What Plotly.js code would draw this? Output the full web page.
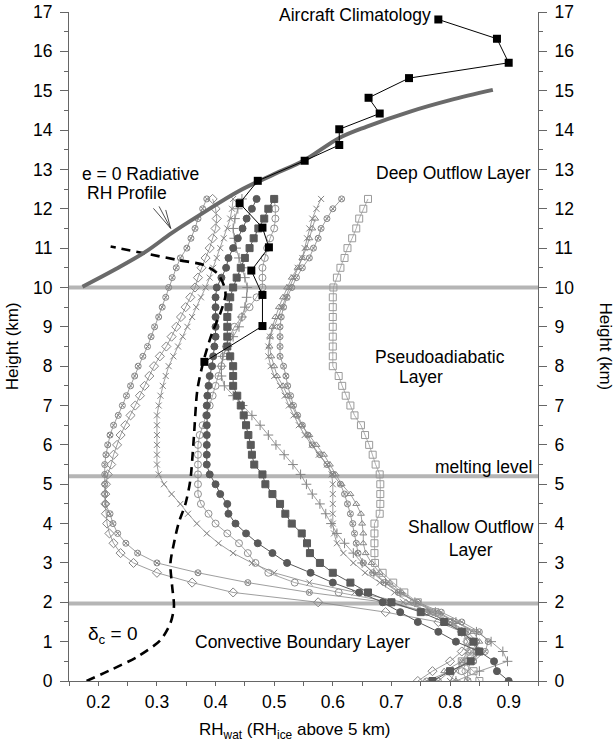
<!DOCTYPE html>
<html><head><meta charset="utf-8">
<script src="https://cdn.plot.ly/plotly-3.0.1.min.js"></script>
<style>html,body{margin:0;padding:0;background:#fff}</style>
</head><body><div id="chart" style="width:616px;height:744px"></div>
<script>
// Heights (km) for model profiles
var heights = [0,0.25,0.5,0.75,1,1.25,1.5,1.75,2,2.25,2.5,2.75,3,3.25,3.5,3.75,4,4.25,4.5,4.75,5,5.25,5.5,5.75,6,6.25,6.5,6.75,7,7.25,7.5,7.75,8,8.25,8.5,8.75,9,9.25,9.5,9.75,10,10.25,10.5,10.75,11,11.25,11.5,11.75,12,12.25];

var p1 = [0.76,0.80,0.84,0.85,0.845,0.83,0.80,0.76,0.69,0.56,0.455,0.37,0.30,0.267,0.247,0.233,0.225,0.22,0.212,0.211,0.211,0.211,0.211,0.213,0.216,0.22,0.226,0.234,0.241,0.248,0.255,0.262,0.268,0.276,0.284,0.29,0.296,0.303,0.309,0.315,0.32,0.326,0.333,0.34,0.351,0.358,0.365,0.37,0.378,0.385];
var p2 = [0.745,0.77,0.80,0.82,0.83,0.82,0.78,0.69,0.575,0.43,0.36,0.30,0.26,0.238,0.226,0.219,0.215,0.213,0.212,0.212,0.213,0.216,0.222,0.226,0.232,0.238,0.246,0.255,0.263,0.271,0.279,0.287,0.295,0.305,0.316,0.325,0.333,0.341,0.349,0.357,0.365,0.37,0.376,0.383,0.39,0.395,0.40,0.402,0.40,0.395];
var p3 = [0.80,0.81,0.82,0.83,0.835,0.82,0.80,0.77,0.72,0.637,0.56,0.50,0.462,0.43,0.405,0.385,0.368,0.353,0.34,0.325,0.312,0.303,0.30,0.30,0.30,0.30,0.30,0.30,0.303,0.306,0.31,0.315,0.32,0.328,0.336,0.344,0.352,0.36,0.367,0.375,0.383,0.39,0.396,0.402,0.408,0.414,0.42,0.425,0.428,0.43];
var p4 = [0.90,0.88,0.875,0.85,0.81,0.78,0.745,0.715,0.685,0.645,0.60,0.562,0.522,0.497,0.472,0.452,0.434,0.422,0.42,0.408,0.40,0.39,0.385,0.385,0.385,0.385,0.385,0.385,0.385,0.386,0.388,0.39,0.394,0.396,0.398,0.40,0.40,0.40,0.40,0.40,0.402,0.41,0.418,0.422,0.43,0.438,0.446,0.453,0.462,0.47];
var p5 = [0.83,0.82,0.83,0.845,0.84,0.825,0.80,0.76,0.70,0.61,0.535,0.49,0.468,0.455,0.44,0.42,0.40,0.388,0.375,0.37,0.37,0.37,0.37,0.37,0.37,0.373,0.378,0.384,0.39,0.395,0.40,0.405,0.41,0.414,0.418,0.424,0.432,0.445,0.458,0.47,0.48,0.48,0.48,0.484,0.488,0.493,0.50,0.502,0.502,0.50];
var p6 = [0.77,0.80,0.835,0.85,0.84,0.82,0.79,0.75,0.70,0.66,0.63,0.60,0.578,0.561,0.556,0.547,0.53,0.519,0.51,0.497,0.485,0.48,0.466,0.462,0.46,0.456,0.452,0.448,0.443,0.437,0.43,0.43,0.43,0.425,0.42,0.42,0.42,0.42,0.422,0.425,0.43,0.436,0.443,0.45,0.458,0.465,0.473,0.483,0.49,0.50];
var p7 = [0.81,0.85,0.898,0.89,0.87,0.845,0.81,0.775,0.74,0.715,0.69,0.67,0.65,0.635,0.62,0.607,0.597,0.588,0.578,0.565,0.555,0.545,0.532,0.517,0.503,0.49,0.476,0.462,0.446,0.43,0.415,0.41,0.41,0.412,0.42,0.43,0.44,0.445,0.45,0.453,0.454,0.45,0.445,0.44,0.435,0.432,0.43,0.433,0.438,0.445];
var p8 = [0.83,0.83,0.835,0.845,0.84,0.82,0.795,0.765,0.73,0.705,0.68,0.655,0.635,0.618,0.607,0.602,0.60,0.60,0.60,0.60,0.60,0.598,0.59,0.576,0.564,0.552,0.542,0.533,0.525,0.518,0.51,0.50,0.494,0.49,0.49,0.493,0.50,0.507,0.513,0.52,0.526,0.533,0.54,0.548,0.552,0.556,0.56,0.565,0.572,0.58];
var p9 = [0.78,0.80,0.84,0.86,0.865,0.85,0.82,0.785,0.745,0.712,0.688,0.668,0.652,0.643,0.64,0.637,0.634,0.63,0.625,0.62,0.613,0.60,0.59,0.578,0.565,0.557,0.548,0.54,0.533,0.528,0.523,0.52,0.516,0.51,0.51,0.51,0.51,0.512,0.516,0.522,0.53,0.538,0.548,0.56,0.567,0.575,0.58,0.59,0.60,0.615];
var p10 = [0.85,0.84,0.82,0.835,0.83,0.82,0.80,0.775,0.745,0.722,0.703,0.685,0.672,0.671,0.671,0.671,0.671,0.68,0.681,0.681,0.681,0.68,0.673,0.668,0.662,0.655,0.648,0.637,0.63,0.622,0.616,0.61,0.60,0.60,0.60,0.60,0.60,0.60,0.60,0.60,0.601,0.607,0.613,0.62,0.625,0.633,0.64,0.645,0.652,0.66];
var p11 = [0.81,0.79,0.82,0.84,0.85,0.84,0.81,0.78,0.742,0.718,0.697,0.68,0.666,0.656,0.652,0.652,0.65,0.648,0.64,0.63,0.615,0.605,0.595,0.585,0.572,0.56,0.547,0.538,0.53,0.522,0.515,0.505,0.50,0.495,0.492,0.493,0.497,0.502,0.508,0.515,0.522,0.53,0.54,0.548,0.555,0.56,0.565,0.57,null,null];

// Aircraft climatology
var acRH = [0.381,0.48,0.48,0.461,0.491,0.48,0.441,0.472,0.552,0.611,0.611,0.68,0.661,0.73,0.90,0.88,0.78];
var acZ  = [8.11,9.02,9.81,10.43,11.02,11.52,12.14,12.71,13.22,13.62,14.02,14.42,14.82,15.32,15.71,16.32,16.81];

// e = 0 radiative RH profile
var radRH = [0.173,0.23,0.281,0.325,0.374,0.44,0.50,0.55,0.611,0.658,0.732,0.80,0.873];
var radZ  = [10.02,10.47,10.91,11.38,11.85,12.45,12.88,13.22,13.8,14.09,14.47,14.76,15.02];

// delta_c = 0 profile
var dRH = [0.18,0.221,0.267,0.306,0.323,0.329,0.326,0.323,0.329,0.337,0.349,0.357,0.363,0.369,0.38,0.394,0.408,0.417,0.414,0.403,0.38,0.335,0.278,0.221];
var dZ  = [0.0,0.28,0.62,1.04,1.47,1.89,2.4,2.99,3.5,4.01,4.52,5.11,6.2,7.4,8.16,8.84,9.34,9.81,10.06,10.36,10.57,10.7,10.87,11.04];

// Layer boundaries (km)
var layerLines = [10, 5.2, 1.97];

var xTicks = [0.2,0.3,0.4,0.5,0.6,0.7,0.8,0.9];
var yTicks = [0,1,2,3,4,5,6,7,8,9,10,11,12,13,14,15,16,17];

var FONT = 'Liberation Sans, Arial, Helvetica, sans-serif';
var G = '#858585';

function prof(vals, sym, col, size, lw) {
  return {x: vals, y: heights, type: 'scatter', mode: 'lines+markers', showlegend: false, hoverinfo: 'skip',
    line: {color: col, width: lw || 0.8},
    marker: {symbol: sym, size: size, color: col, line: {color: col, width: 1}}};
}

var traces = [
  prof(p1, 'circle-x-open', G, 6),
  prof(p2, 'diamond-open', G, 7),
  prof(p3, 'x-thin-open', G, 6),
  prof(p5, 'circle-open', '#909090', 7),
  prof(p7, 'cross-thin-open', G, 7),
  prof(p8, 'x-thin-open', G, 6),
  prof(p9, 'circle-x-open', G, 6),
  prof(p11, 'triangle-up-open', G, 6),
  prof(p10, 'square-open', '#9a9a9a', 7),
  prof(p4, 'circle', '#595959', 7, 1),
  prof(p6, 'square', '#595959', 7, 1),
  {x: dRH, y: dZ, type: 'scatter', mode: 'lines', showlegend: false, hoverinfo: 'skip',
   line: {color: '#000', width: 2.6, dash: '9px,6px', shape: 'spline', smoothing: 0.8}},
  {x: radRH, y: radZ, type: 'scatter', mode: 'lines', showlegend: false, hoverinfo: 'skip',
   line: {color: '#6a6a6a', width: 4, shape: 'spline'}},
  {x: acRH, y: acZ, yaxis: 'y2', type: 'scatter', mode: 'lines+markers', showlegend: false, hoverinfo: 'skip',
   line: {color: '#000', width: 1}, marker: {symbol: 'square', size: 8, color: '#000'}}
];

var shapes = layerLines.map(function (v) {
  return {type: 'line', xref: 'paper', x0: 0, x1: 1, yref: 'y', y0: v, y1: v, layer: 'below',
          line: {color: '#b5b5b5', width: 4}};
});
// arrow fan pointing at the radiative curve
var fanStart = [[0.294, 12.01], [0.3036, 12.06], [0.315, 11.97]];
var fanEnd = [0.3235, 11.5];
fanStart.forEach(function (p) {
  shapes.push({type: 'line', xref: 'x', yref: 'y', x0: p[0], y0: p[1], x1: fanEnd[0], y1: fanEnd[1],
               line: {color: '#222', width: 0.8}});
});

function txt(t, x, y, xanchor, extra) {
  var a = {text: t, x: x, y: y, xref: 'x', yref: 'y', xanchor: xanchor, yanchor: 'middle', showarrow: false,
           font: {family: FONT, size: 17.5, color: '#000'}};
  for (var k in extra) a[k] = extra[k];
  return a;
}

var annotations = [
  txt('Aircraft Climatology', 0.771, 16.92, 'right'),
  txt('Deep Outflow Layer', 0.942, 12.92, 'right'),
  txt('e = 0 Radiative', 0.169, 12.88, 'left'),
  txt('RH Profile', 0.178, 12.39, 'left'),
  txt('Pseudoadiabatic', 0.783, 8.24, 'center'),
  txt('Layer', 0.75, 7.72, 'center'),
  txt('melting level', 0.944, 5.43, 'right'),
  txt('Shallow Outflow<br>Layer', 0.836, 3.62, 'center'),
  txt('Convective Boundary Layer', 0.548, 1.0, 'center'),
  txt('δ<sub>c</sub> = 0', 0.224, 1.17, 'center', {font: {family: FONT, size: 19, color: '#000'}}),
  {text: 'RH<sub>wat</sub> (RH<sub>ice</sub> above 5 km)', xref: 'paper', yref: 'paper', x: 0.482, y: -0.074,
   xanchor: 'center', yanchor: 'middle', showarrow: false, font: {family: FONT, size: 17, color: '#000'}},
  {text: 'Height (km)', xref: 'paper', yref: 'paper', x: -0.12, y: 0.5, textangle: -90,
   xanchor: 'center', yanchor: 'middle', showarrow: false, font: {family: FONT, size: 17, color: '#000'}},
  {text: 'Height (km)', xref: 'paper', yref: 'paper', x: 1.143, y: 0.5, textangle: 90,
   xanchor: 'center', yanchor: 'middle', showarrow: false, font: {family: FONT, size: 17, color: '#000'}}
];

var yCommon = {
  range: [0, 17], tickvals: yTicks, ticktext: yTicks.map(String), ticks: 'outside', ticklen: 8, tickwidth: 1,
  tickcolor: '#666', showline: true, linecolor: '#666', linewidth: 1, showgrid: false, zeroline: false,
  tickfont: {family: FONT, size: 17.5, color: '#000'}, ticklabelstandoff: 4,
  minor: {tick0: 0, dtick: 0.5, ticks: 'outside', ticklen: 4, tickcolor: '#666', showgrid: false}
};

var layout = {
  width: 616, height: 744,
  margin: {l: 69, r: 78, t: 12, b: 63},
  paper_bgcolor: '#fff', plot_bgcolor: '#fff',
  font: {family: FONT, color: '#000'},
  showlegend: false,
  xaxis: {
    range: [0.15, 0.95], tickvals: xTicks, ticktext: xTicks.map(function (v) { return v.toFixed(1); }),
    ticks: 'outside', ticklen: 4, tickwidth: 1, tickcolor: '#666', showline: true, linecolor: '#666', linewidth: 1,
    showgrid: false, zeroline: false, tickfont: {family: FONT, size: 17.5, color: '#000'}, ticklabelstandoff: 1,
    minor: {tick0: 0.15, dtick: 0.05, ticks: 'outside', ticklen: 4, tickcolor: '#666', showgrid: false}
  },
  yaxis: Object.assign({}, yCommon, {side: 'left'}),
  yaxis2: Object.assign({}, yCommon, {side: 'right', overlaying: 'y'}),
  shapes: shapes,
  annotations: annotations
};

Plotly.newPlot('chart', traces, layout, {staticPlot: true, displayModeBar: false});
</script>
</body></html>
